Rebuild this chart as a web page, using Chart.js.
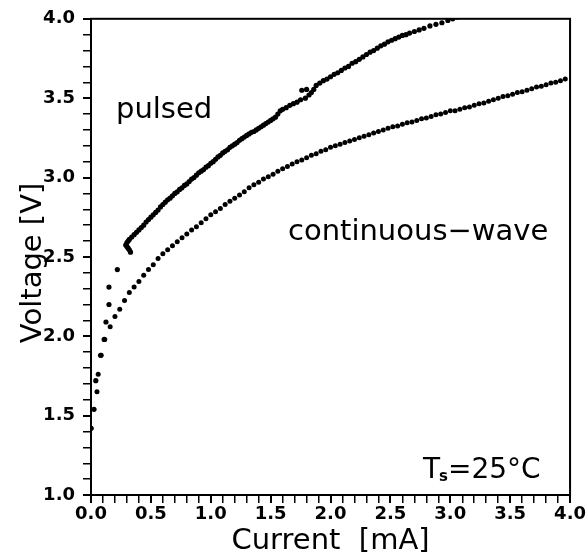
<!DOCTYPE html>
<html>
<head>
<meta charset="utf-8">
<script src="https://cdn.jsdelivr.net/npm/chart.js@4.4.1/dist/chart.umd.min.js"></script>
<style>
  html, body { margin: 0; padding: 0; background: #fff; }
  canvas { display: block; }
</style>
</head>
<body>
<canvas id="ivChart" width="587" height="556"></canvas>
<script>
// I-V curves (current in mA, voltage in V)
const pulsedCurrent = [
  0.00, 0.025, 0.04, 0.08, 0.11, 0.125, 0.15, 0.15, 0.22,
  0.33, 0.32, 0.31, 0.30, 0.29, 0.30, 0.31, 0.32, 0.34, 0.36, 0.38, 0.40,
  0.42, 0.44, 0.46, 0.48, 0.50, 0.52, 0.54, 0.56, 0.58, 0.60, 0.62, 0.64,
  0.66, 0.68, 0.70, 0.72, 0.74, 0.76, 0.78, 0.80, 0.82, 0.84, 0.86, 0.88,
  0.90, 0.92, 0.94, 0.96, 0.98, 1.00, 1.02, 1.04, 1.06, 1.08, 1.10, 1.12,
  1.14, 1.16, 1.18, 1.20, 1.22, 1.24, 1.26, 1.28, 1.30, 1.32, 1.34, 1.36,
  1.38, 1.40, 1.42, 1.44, 1.46, 1.48, 1.50, 1.52, 1.54, 1.56, 1.58, 1.60,
  1.63, 1.66, 1.69, 1.72, 1.75, 1.79, 1.76, 1.80, 1.82, 1.84, 1.86, 1.88,
  1.91, 1.94, 1.97, 2.00, 2.03, 2.06, 2.09, 2.12, 2.15, 2.18, 2.21, 2.24,
  2.27, 2.30, 2.33, 2.36, 2.39, 2.42, 2.45, 2.48, 2.51, 2.54, 2.57, 2.60,
  2.63, 2.66, 2.70, 2.74, 2.78, 2.83, 2.88, 2.93, 2.98, 3.02, 3.06
];
const pulsedVoltage = [
  1.42, 1.54, 1.72, 1.88, 1.98, 2.09, 2.20, 2.31, 2.42,
  2.53, 2.545, 2.555, 2.565, 2.575, 2.59, 2.60, 2.61, 2.625, 2.64, 2.655, 2.67,
  2.685, 2.70, 2.72, 2.735, 2.75, 2.765, 2.78, 2.795, 2.815, 2.83, 2.845, 2.86,
  2.87, 2.885, 2.90, 2.91, 2.925, 2.935, 2.95, 2.96, 2.975, 2.99, 3.00, 3.015,
  3.03, 3.04, 3.05, 3.065, 3.075, 3.09, 3.10, 3.115, 3.13, 3.14, 3.155, 3.165,
  3.175, 3.19, 3.20, 3.21, 3.22, 3.235, 3.245, 3.255, 3.265, 3.275, 3.285, 3.29,
  3.30, 3.31, 3.32, 3.33, 3.34, 3.35, 3.36, 3.37, 3.38, 3.40, 3.42, 3.43,
  3.44, 3.455, 3.465, 3.475, 3.49, 3.50, 3.55, 3.555, 3.52, 3.535, 3.555, 3.58,
  3.595, 3.61, 3.62, 3.635, 3.65, 3.66, 3.675, 3.69, 3.70, 3.72, 3.73, 3.745,
  3.76, 3.775, 3.79, 3.80, 3.815, 3.83, 3.84, 3.855, 3.865, 3.875, 3.885, 3.895,
  3.90, 3.91, 3.92, 3.93, 3.94, 3.955, 3.965, 3.975, 3.99, 4.00, 4.01
];

const cwCurrent = [
  0.00, 0.05, 0.06, 0.085, 0.115, 0.16, 0.20, 0.24, 0.28, 0.32, 0.36, 0.40,
  0.44, 0.48, 0.52, 0.56, 0.60, 0.64, 0.68, 0.72, 0.76, 0.80, 0.84, 0.88,
  0.92, 0.96, 1.00, 1.04, 1.08, 1.12, 1.16, 1.20, 1.24, 1.28, 1.32, 1.36,
  1.40, 1.44, 1.48, 1.52, 1.56, 1.60, 1.64, 1.68, 1.72, 1.76, 1.80, 1.84,
  1.88, 1.92, 1.96, 2.00, 2.04, 2.08, 2.12, 2.16, 2.20, 2.24, 2.28, 2.32,
  2.36, 2.40, 2.44, 2.48, 2.52, 2.56, 2.60, 2.64, 2.68, 2.72, 2.76, 2.80,
  2.84, 2.88, 2.92, 2.96, 3.00, 3.04, 3.08, 3.12, 3.16, 3.20, 3.24, 3.28,
  3.32, 3.36, 3.40, 3.44, 3.48, 3.52, 3.56, 3.60, 3.64, 3.68, 3.72, 3.76,
  3.80, 3.84, 3.88, 3.92, 3.96
];
const cwVoltage = [
  1.42, 1.65, 1.76, 1.88, 1.98, 2.06, 2.125, 2.17, 2.225, 2.275, 2.31, 2.345,
  2.385, 2.42, 2.45, 2.49, 2.52, 2.545, 2.57, 2.595, 2.62, 2.645, 2.67, 2.69,
  2.715, 2.74, 2.765, 2.785, 2.805, 2.83, 2.85, 2.87, 2.89, 2.91, 2.935, 2.955,
  2.97, 2.99, 3.005, 3.02, 3.04, 3.055, 3.07, 3.085, 3.10, 3.11, 3.125, 3.14,
  3.15, 3.165, 3.175, 3.19, 3.20, 3.21, 3.22, 3.23, 3.24, 3.25, 3.26, 3.27,
  3.28, 3.29, 3.30, 3.31, 3.32, 3.325, 3.335, 3.345, 3.35, 3.36, 3.37, 3.375,
  3.385, 3.395, 3.40, 3.41, 3.42, 3.42, 3.43, 3.44, 3.445, 3.455, 3.465, 3.47,
  3.48, 3.49, 3.50, 3.51, 3.515, 3.525, 3.535, 3.54, 3.55, 3.56, 3.57, 3.575,
  3.585, 3.595, 3.60, 3.61, 3.62
];

const curveLabels = ["pulsed", "continuous\u2212wave"];
const xTitle = "Current  [mA]";
const yTitle = "Voltage [V]";
const tempLabel = { main: "T", sub: "s", rest: "=25\u00B0C" };

const toPoints = (xs, ys) => xs.map((x, i) => ({ x, y: ys[i] }));

// label only every 0.5, minor ticks every 0.1
const halfStepLabel = (val) => {
  const v = Number(val);
  return Math.abs(v * 2 - Math.round(v * 2)) < 1e-6 ? v.toFixed(1) : "";
};
const isMajor = (ctx) => ctx.tick && halfStepLabel(ctx.tick.value) !== "";

// frame + free text drawn on top
const textPlugin = {
  id: "figureText",
  afterDraw(chart) {
    const { ctx, chartArea: a } = chart;
    ctx.save();
    ctx.strokeStyle = "#000";
    ctx.lineWidth = 2;
    ctx.strokeRect(a.left, a.top, a.right - a.left, a.bottom - a.top);

    ctx.fillStyle = "#000";
    ctx.font = "29px 'DejaVu Sans'";
    ctx.textBaseline = "alphabetic";
    ctx.textAlign = "left";
    ctx.fillText(curveLabels[0], 116, 118);
    ctx.fillText(curveLabels[1], 288, 240);

    // T_s=25°C
    let x = 423;
    ctx.font = "28px 'DejaVu Sans'";
    ctx.fillText(tempLabel.main, x, 478);
    x += ctx.measureText(tempLabel.main).width - 1;
    ctx.font = "bold 15px 'DejaVu Sans'";
    ctx.fillText(tempLabel.sub, x, 481);
    x += ctx.measureText(tempLabel.sub).width;
    ctx.font = "28px 'DejaVu Sans'";
    ctx.fillText(tempLabel.rest, x, 478);

    // axis titles
    ctx.font = "29px 'DejaVu Sans'";
    ctx.textAlign = "center";
    ctx.fillText(xTitle, (a.left + a.right) / 2, 549);
    ctx.translate(41, (a.top + a.bottom) / 2 + 6);
    ctx.rotate(-Math.PI / 2);
    ctx.fillText(yTitle, 0, 0);
    ctx.restore();
  }
};

const axisCommon = {
  type: "linear",
  border: { color: "#000", width: 2 },
  grid: {
    drawOnChartArea: false,
    drawTicks: true,
    tickLength: 8,
    tickColor: "#000",
    lineWidth: (ctx) => (isMajor(ctx) ? 2 : 1.5)
  },
  title: { display: false }
};

const tickFont = { family: "'DejaVu Sans'", size: 18, weight: "bold" };

new Chart(document.getElementById("ivChart").getContext("2d"), {
  type: "scatter",
  data: {
    datasets: [
      {
        label: curveLabels[0],
        data: toPoints(pulsedCurrent, pulsedVoltage),
        backgroundColor: "#000",
        borderWidth: 0,
        pointRadius: 2.6
      },
      {
        label: curveLabels[1],
        data: toPoints(cwCurrent, cwVoltage),
        backgroundColor: "#000",
        borderWidth: 0,
        pointRadius: 2.5
      }
    ]
  },
  options: {
    responsive: false,
    animation: false,
    events: [],
    layout: { padding: { top: 13, right: 14, left: 0, bottom: 0 } },
    plugins: { legend: { display: false }, tooltip: { enabled: false } },
    scales: {
      x: {
        ...axisCommon,
        min: 0,
        max: 4,
        afterFit: (scale) => { scale.height = 61; },
        ticks: {
          stepSize: 0.1,
          autoSkip: false,
          maxRotation: 0,
          padding: 1,
          color: "#000",
          font: tickFont,
          callback: halfStepLabel
        }
      },
      y: {
        ...axisCommon,
        min: 1,
        max: 4,
        afterFit: (scale) => { scale.width = 91; },
        ticks: {
          stepSize: 0.1,
          autoSkip: false,
          padding: 8,
          color: "#000",
          font: tickFont,
          callback: halfStepLabel
        }
      }
    }
  },
  plugins: [textPlugin]
});
</script>
</body>
</html>
